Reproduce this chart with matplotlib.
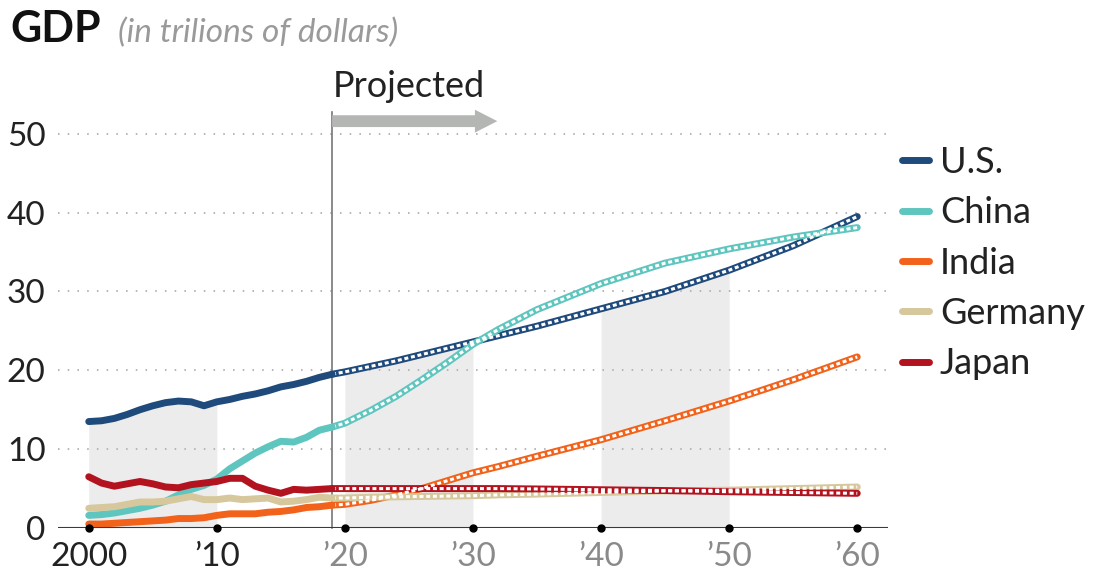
import matplotlib
matplotlib.use("Agg")
import matplotlib.pyplot as plt
from matplotlib.patches import FancyArrow
import numpy as np

plt.rcParams["font.family"] = ["Lato", "DejaVu Sans"]

# --- data (trillions of dollars) ---
years_hist = [2000, 2001, 2002, 2003, 2004, 2005, 2006, 2007, 2008, 2009,
              2010, 2011, 2012, 2013, 2014, 2015, 2016, 2017, 2018, 2019]
years_proj = [2019, 2020, 2022, 2024, 2026, 2028, 2030, 2032, 2035,
              2040, 2045, 2050, 2055, 2060]

us_hist = [13.5, 13.6, 13.9, 14.4, 15.0, 15.5, 15.9, 16.1, 16.0, 15.5,
           16.0, 16.3, 16.7, 17.0, 17.4, 17.9, 18.2, 18.6, 19.1, 19.5]
china_hist = [1.6, 1.7, 1.9, 2.2, 2.5, 2.9, 3.4, 4.2, 4.9, 5.4,
              6.2, 7.5, 8.5, 9.5, 10.3, 11.0, 10.9, 11.5, 12.4, 12.8]
india_hist = [0.5, 0.5, 0.6, 0.7, 0.8, 0.9, 1.0, 1.2, 1.2, 1.3,
              1.6, 1.8, 1.8, 1.8, 2.0, 2.1, 2.3, 2.6, 2.7, 2.9]
germany_hist = [2.5, 2.6, 2.7, 3.0, 3.3, 3.3, 3.4, 3.7, 4.0, 3.6,
                3.6, 3.8, 3.6, 3.7, 3.8, 3.3, 3.4, 3.6, 3.9, 3.8]
japan_hist = [6.5, 5.7, 5.3, 5.6, 5.9, 5.6, 5.2, 5.1, 5.5, 5.7,
              5.9, 6.3, 6.3, 5.3, 4.8, 4.4, 4.9, 4.8, 4.9, 5.0]

us_proj = [19.5, 19.8, 20.5, 21.2, 22.0, 22.8, 23.6, 24.4, 25.6,
           27.8, 30.0, 32.7, 35.8, 39.5]
china_proj = [12.8, 13.3, 14.9, 16.7, 18.8, 21.0, 23.3, 25.2, 27.7,
              31.0, 33.6, 35.4, 36.9, 38.1]
india_proj = [2.9, 3.0, 3.5, 4.2, 5.0, 6.0, 7.0, 7.8, 9.1,
              11.2, 13.6, 16.1, 18.8, 21.7]
germany_proj = [3.8, 3.8, 3.9, 3.95, 4.0, 4.05, 4.1, 4.2, 4.3,
                4.5, 4.7, 4.8, 5.0, 5.2]
japan_proj = [5.0, 5.0, 5.0, 5.0, 5.0, 5.0, 5.0, 5.0, 4.95,
              4.85, 4.75, 4.6, 4.5, 4.4]

names = ["U.S.", "China", "India", "Germany", "Japan"]
colors = ["#1f4a7c", "#5fc6bf", "#f2621b", "#d6c89c", "#b3121f"]
hist = [us_hist, china_hist, india_hist, germany_hist, japan_hist]
proj = [us_proj, china_proj, india_proj, germany_proj, japan_proj]

shaded_decades = [(2000, 2010), (2020, 2030), (2040, 2050)]
tick_years = [2000, 2010, 2020, 2030, 2040, 2050, 2060]
tick_labels = ["2000", "\u201910", "\u201920", "\u201930", "\u201940", "\u201950", "\u201960"]
y_ticks = [0, 10, 20, 30, 40, 50]
split_year = 2019

fig = plt.figure(figsize=(10.97, 5.79), dpi=100)
ax = fig.add_axes([58 / 1097, 51 / 579, 830 / 1097, 410 / 579])
ax.set_xlim(1997.6, 2062.4)
ax.set_ylim(0, 52)

# grey decade bands up to the U.S. curve
us_years = np.array(years_hist + years_proj[1:])
us_all = np.array(us_hist + us_proj[1:])
for a, b in shaded_decades:
    m = (us_years >= a) & (us_years <= b)
    ax.fill_between(us_years[m], 0, us_all[m], color="#ececec", lw=0, zorder=0)

# dotted gridlines
for y in y_ticks[1:]:
    ax.axhline(y, color="#b5b5b5", lw=1.4, ls=(0, (0.8, 4.2)), zorder=1)

# projection divider + arrow
ax.plot([split_year, split_year], [0, 52.7], color="#777777", lw=1.2,
        clip_on=False, zorder=2)
ax.add_patch(FancyArrow(split_year, 51.6, 12.9, 0, width=1.5, head_width=2.9,
                        head_length=1.75, length_includes_head=True,
                        color="#b4b6b4", lw=0, clip_on=False, zorder=2))
ax.text(split_year + 0.05, 54.6, "Projected", fontsize=26,
        color="#222222", va="baseline", ha="left")

handles = []
for name, c, h, p in zip(names, colors, hist, proj):
    ln, = ax.plot(years_hist, h, color=c, lw=5, solid_capstyle="round",
                  solid_joinstyle="round", zorder=4, label=name)
    ax.plot(years_proj, p, color=c, lw=5, solid_capstyle="round",
            solid_joinstyle="round", zorder=3)
    ax.plot(years_proj, p, color="white", lw=2.2, dashes=(1.3, 0.9),
            dash_capstyle="butt", zorder=3.5)
    handles.append(ln)

# x axis with dot ticks
ax.axhline(0, color="#3a3a3a", lw=1.5, zorder=5)
ax.plot(tick_years, [0] * len(tick_years), "o", color="black", ms=5,
        clip_on=False, zorder=6)

for s in ax.spines.values():
    s.set_visible(False)
ax.set_yticks(y_ticks)
ax.set_yticklabels([str(v) for v in y_ticks])
ax.set_xticks(tick_years)
ax.set_xticklabels(tick_labels)
ax.tick_params(length=0, labelsize=24)
ax.tick_params(axis="y", pad=9)
ax.tick_params(axis="x", pad=10)
for lab in ax.get_yticklabels():
    lab.set_color("#222222")
for i, lab in enumerate(ax.get_xticklabels()):
    lab.set_color("#222222" if i < 2 else "#8a8a8a")

leg = ax.legend(handles=handles, loc="upper left", bbox_to_anchor=(902 / 1097, 1 - 146 / 579),
                bbox_transform=fig.transFigure, frameon=False, fontsize=26,
                handlelength=0.75, handletextpad=0.3, labelspacing=0.48,
                borderaxespad=0, borderpad=0)
for t in leg.get_texts():
    t.set_color("#222222")

fig.text(10 / 1097, 1 - 42 / 579, "GDP", fontsize=31, fontweight="bold",
         color="#111111", va="baseline")
fig.text(118 / 1097, 1 - 42 / 579, "(in trilions of dollars)", fontsize=24,
         fontstyle="italic", color="#9a9a9a", va="baseline")

fig.savefig("out.png", dpi=100)
